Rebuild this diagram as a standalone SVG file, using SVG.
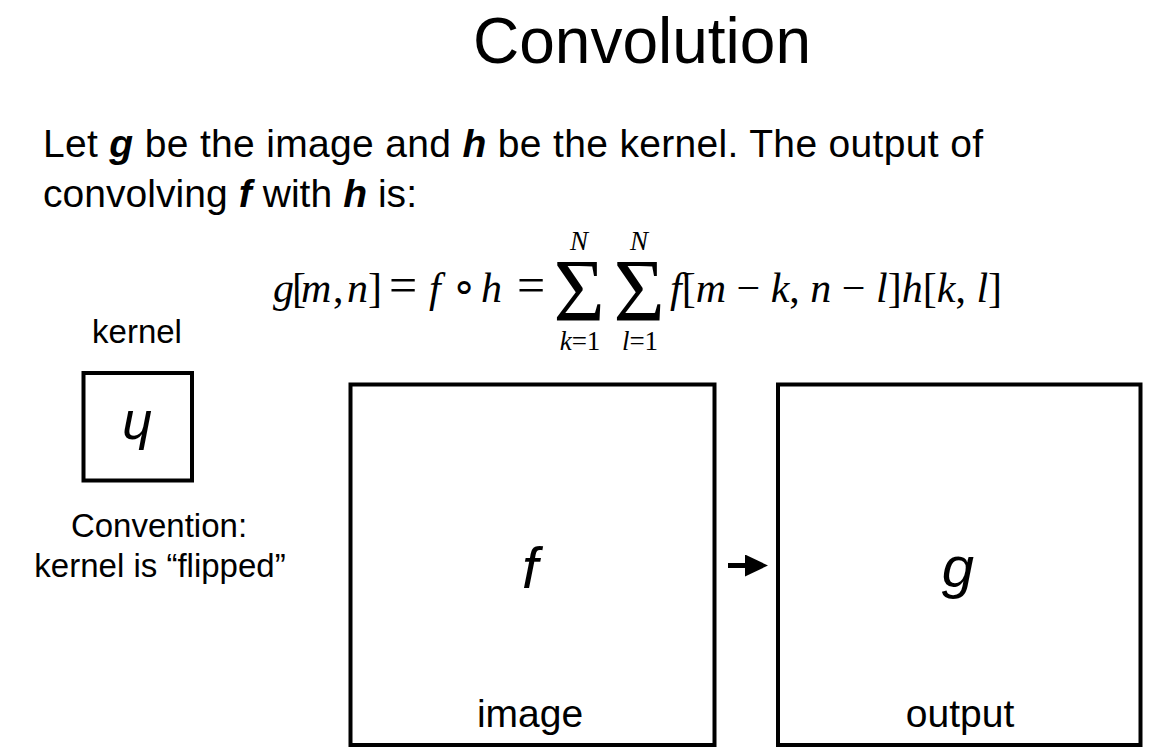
<svg xmlns="http://www.w3.org/2000/svg" width="1159" height="755" viewBox="0 0 1159 755">
<defs>
<style>
.sans{font-family:"Liberation Sans",Arial,sans-serif;fill:#000}
.math{font-family:"Liberation Serif","Times New Roman",serif;fill:#000}
.it{font-style:italic}
.bi{font-style:italic;font-weight:bold}
.box{fill:#fff;stroke:#000;stroke-width:4}
.conn{stroke:#000;stroke-width:5;fill:none}
</style>
<marker id="arrowhead" markerUnits="userSpaceOnUse" markerWidth="24" markerHeight="24" refX="1" refY="11" orient="auto">
<polygon points="0,0 23,11 0,22" fill="#000"/>
</marker>
</defs>
<rect width="1159" height="755" fill="#fff"/>
<text class="sans" x="642" y="63" font-size="64" text-anchor="middle">Convolution</text>
<text class="sans" x="43" y="157" font-size="39" textLength="940" lengthAdjust="spacing">Let <tspan class="bi">g</tspan> be the image and <tspan class="bi">h</tspan> be the kernel. The output of</text>
<text class="sans" x="43" y="207" font-size="39" textLength="374" lengthAdjust="spacing">convolving <tspan class="bi">f</tspan> with <tspan class="bi">h</tspan> is:</text>
<g id="formula">
<text class="math" x="273" y="302" font-size="42"><tspan class="it">g</tspan><tspan x="292">[</tspan><tspan class="it" x="301">m</tspan><tspan x="333">,</tspan><tspan class="it" x="347">n</tspan><tspan x="368">]</tspan><tspan x="389" font-size="50">=</tspan><tspan class="it" x="429">f</tspan><tspan x="451">∘</tspan><tspan class="it" x="481">h</tspan><tspan x="517" font-size="50">=</tspan></text>
<text class="math" x="579" y="320" font-size="88" text-anchor="middle">Σ</text>
<text class="math" x="639" y="320" font-size="88" text-anchor="middle">Σ</text>
<text class="math it" x="579" y="250" font-size="27" text-anchor="middle">N</text>
<text class="math it" x="639" y="250" font-size="27" text-anchor="middle">N</text>
<text class="math" x="580" y="350" font-size="27" text-anchor="middle"><tspan class="it">k</tspan>=1</text>
<text class="math" x="640" y="350" font-size="27" text-anchor="middle"><tspan class="it">l</tspan>=1</text>
<text class="math" x="670" y="302" font-size="42"><tspan class="it">f</tspan>[<tspan class="it">m</tspan> − <tspan class="it">k</tspan>, <tspan class="it">n</tspan> − <tspan class="it">l</tspan>]<tspan class="it">h</tspan>[<tspan class="it">k</tspan>, <tspan class="it">l</tspan>]</text>
</g>
<g id="kernel">
<text class="sans" x="137" y="343" font-size="33" text-anchor="middle">kernel</text>
<rect class="box" x="83.5" y="373" width="108.5" height="107.5"/>
<text class="sans it" x="137" y="453" font-size="54" text-anchor="middle" transform="rotate(180 137 432)">h</text>
<text class="sans" x="159" y="537" font-size="33" text-anchor="middle">Convention:</text>
<text class="sans" x="160" y="577" font-size="33" text-anchor="middle">kernel is “flipped”</text>
</g>
<g id="image">
<rect class="box" x="350.5" y="384.5" width="364" height="360.5"/>
<text class="sans it" x="530" y="588" font-size="58" text-anchor="middle">f</text>
<text class="sans" x="530" y="727" font-size="39" text-anchor="middle">image</text>
</g>
<g id="output">
<rect class="box" x="778" y="384.5" width="362.5" height="360.5"/>
<text class="sans it" x="958" y="587" font-size="58" text-anchor="middle">g</text>
<text class="sans" x="960" y="727" font-size="39" text-anchor="middle">output</text>
</g>
<g id="connectors">
<line class="conn" x1="728" y1="565.5" x2="746" y2="565.5" marker-end="url(#arrowhead)"/>
</g>
</svg>
